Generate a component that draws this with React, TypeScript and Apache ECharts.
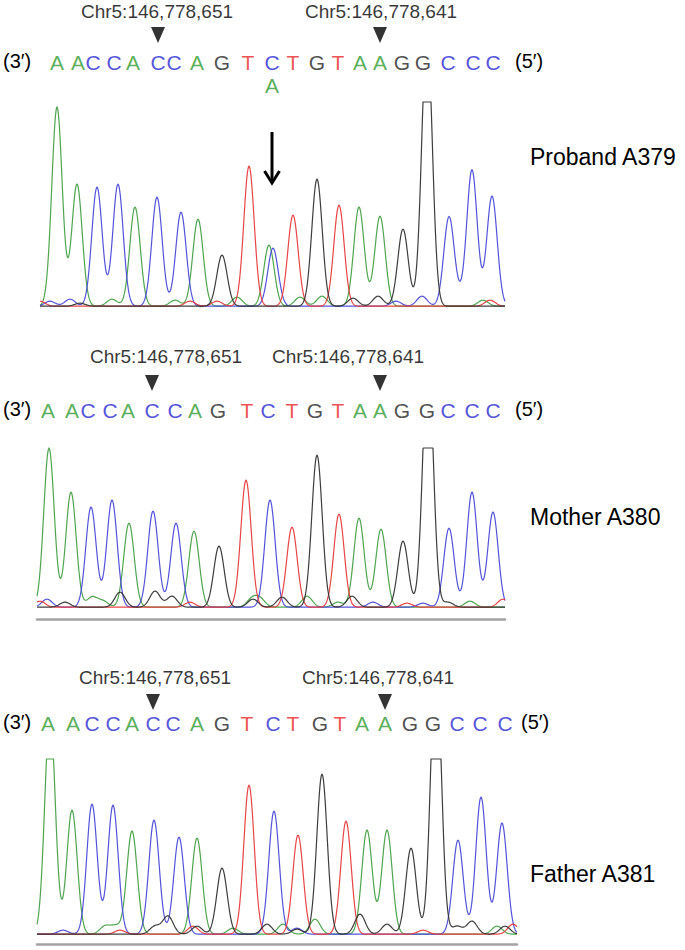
import React, { useEffect, useRef } from "react";
import * as echarts from "echarts";

// ---------------- data ----------------
const BASES = "AACCACCAGTCTGTAAGGCCC".split("");
const MARK_INDEX = [5, 15];
const POSITION_LABELS = ["Chr5:146,778,651", "Chr5:146,778,641"];
const SAMPLES = ["Proband A379", "Mother A380", "Father A381"];
const HET_INDEX = 10;
const HET_BASE = "A";

// Proband A379
const p1PeakPos = [57, 77, 97, 118, 135, 157, 181, 198, 222, 249, 273, 293, 317, 339, 359, 380, 403, 427, 449, 472, 492];
const p1PeakHeight = [199, 122, 119, 122, 99, 109, 94, 87, 51, 140, 58, 91, 127, 101, 99, 90, 77, 276, 89, 136, 110];
const p1CallPos = [57, 78, 93, 114, 133, 158, 174, 197, 222, 248, 272, 293, 317, 338, 360, 380, 402, 423, 448, 473, 493];
const p1HetPeak = [269, 61];
const p1LabelPos = [157, 381];
const p1NoiseA = [[112, 7], [175, 6], [237, 9], [300, 9], [322, 10], [483, 6]];
const p1NoiseC = [[50, 5], [70, 7], [396, 5], [422, 10], [460, 6]];
const p1NoiseG = [[80, 3], [353, 8], [378, 10]];
const p1NoiseT = [[40, 5], [190, 5], [217, 5], [490, 6]];

// Mother A380
const p2PeakPos = [49, 71, 91, 112, 129, 153, 176, 194, 219, 246, 270, 292, 317, 339, 359, 381, 403, 428, 449, 472, 493];
const p2PeakHeight = [159, 115, 100, 107, 84, 96, 84, 76, 61, 127, 107, 80, 152, 93, 89, 78, 66, 252, 79, 115, 95];
const p2CallPos = [48, 72, 88, 110, 128, 152, 175, 195, 218, 247, 268, 292, 315, 338, 360, 380, 402, 427, 448, 472, 493];
const p2LabelPos = [166, 348];
const p2NoiseA = [[92, 10], [103, 6], [252, 8], [260, 8], [307, 11], [338, 5], [470, 6]];
const p2NoiseC = [[47, 8], [373, 5], [423, 4]];
const p2NoiseG = [[65, 5], [120, 15], [155, 16], [172, 11], [253, 8], [282, 10], [352, 11], [448, 5]];
const p2NoiseT = [[40, 6], [190, 5], [407, 4], [503, 8]];

// Father A381
const p3PeakPos = [50, 72, 92, 113, 132, 154, 179, 197, 222, 249, 274, 298, 322, 346, 367, 387, 411, 436, 458, 481, 502];
const p3PeakHeight = [221, 124, 130, 129, 103, 114, 97, 96, 66, 149, 123, 99, 160, 113, 104, 104, 86, 280, 94, 137, 111];
const p3CallPos = [48, 73, 92, 113, 132, 153, 173, 197, 222, 247, 273, 293, 320, 340, 362, 385, 410, 433, 457, 480, 505];
const p3LabelPos = [155, 378];
const p3NoiseA = [[105, 8], [116, 8], [233, 6], [283, 10], [315, 15], [497, 8]];
const p3NoiseC = [[63, 4], [297, 6]];
const p3NoiseG = [[155, 8], [168, 18], [197, 8], [267, 10], [297, 5], [360, 20], [387, 10], [457, 8], [472, 13], [505, 8]];
const p3NoiseT = [[120, 4], [193, 8], [423, 4], [513, 10]];

// ---------------- styling ----------------
const TRACE_COLOR: Record<string, string> = { A: "#46a046", C: "#4a4ad8", G: "#333333", T: "#e63c3c" };
const LETTER_COLOR: Record<string, string> = { A: "#2f9a2f", C: "#2626d0", G: "#222222", T: "#e82525" };
const FONT = "'Liberation Sans', Arial, Helvetica, sans-serif";

type Panel = {
  peakPos: number[];
  peakHeight: number[];
  callPos: number[];
  labelPos: number[];
  noise: Record<string, number[][]>;
  het?: number[];
  left: number;
  top: number;
  height: number;
  xMin: number;
  xMax: number;
  seqY: number;
  triY: number;
  labY: number;
  hetY?: number;
  gray: boolean;
  grayOffset: number;
  rowPixelY: number;
  fiveX: number;
  nameY: number;
};

const panels: Panel[] = [
  {
    peakPos: p1PeakPos, peakHeight: p1PeakHeight, callPos: p1CallPos, labelPos: p1LabelPos,
    noise: { A: p1NoiseA, C: p1NoiseC, G: p1NoiseG, T: p1NoiseT }, het: p1HetPeak,
    left: 40, top: 102, height: 205, xMin: 40, xMax: 505,
    seqY: 245, triY: 272, labY: 296, hetY: 222, gray: false, grayOffset: 0,
    rowPixelY: 62, fiveX: 515, nameY: 157,
  },
  {
    peakPos: p2PeakPos, peakHeight: p2PeakHeight, callPos: p2CallPos, labelPos: p2LabelPos,
    noise: { A: p2NoiseA, C: p2NoiseC, G: p2NoiseG, T: p2NoiseT },
    left: 37, top: 448, height: 160, xMin: 37, xMax: 505,
    seqY: 198, triY: 225, labY: 252, gray: true, grayOffset: 11,
    rowPixelY: 410, fiveX: 515, nameY: 517,
  },
  {
    peakPos: p3PeakPos, peakHeight: p3PeakHeight, callPos: p3CallPos, labelPos: p3LabelPos,
    noise: { A: p3NoiseA, C: p3NoiseC, G: p3NoiseG, T: p3NoiseT },
    left: 37, top: 759, height: 176, xMin: 37, xMax: 517,
    seqY: 212, triY: 233, labY: 258, gray: true, grayOffset: 9,
    rowPixelY: 723, fiveX: 521, nameY: 874,
  },
];

const SIGMA = 5.2;

function makeTraceRenderer(peaks: number[][], color: string, xMin: number, xMax: number, yMax: number) {
  return (params: any, api: any) => {
    if (params.dataIndex !== 0) return { type: "group", children: [] };
    const pts: number[][] = [];
    const s2 = 2 * SIGMA * SIGMA;
    for (let x = xMin; x <= xMax; x += 0.5) {
      let y = 0.8;
      for (const [p, h] of peaks) {
        const d = x - p;
        if (Math.abs(d) < 40) y += h * Math.exp((-d * d) / s2);
      }
      if (y > yMax) y = yMax;
      pts.push(api.coord([x, y]));
    }
    return {
      type: "polyline",
      silent: true,
      shape: { points: pts },
      style: { stroke: color, fill: null, lineWidth: 1.2, opacity: 0.95 },
    };
  };
}

function buildOption() {
  const grid: any[] = [];
  const xAxis: any[] = [];
  const yAxis: any[] = [];
  const series: any[] = [];
  const graphic: any[] = [];

  panels.forEach((pn, pi) => {
    grid.push({ left: pn.left, top: pn.top, width: pn.xMax - pn.xMin, height: pn.height, containLabel: false });
    xAxis.push({
      type: "value", gridIndex: pi, min: pn.xMin, max: pn.xMax,
      axisLine: { show: pn.gray, onZero: false, lineStyle: { color: "#a3a3a3", width: 2.5 } },
      offset: pn.grayOffset,
      axisTick: { show: false }, axisLabel: { show: false }, splitLine: { show: false },
    });
    yAxis.push({
      type: "value", gridIndex: pi, min: 0, max: pn.height,
      show: false, splitLine: { show: false },
    });

    // traces per channel
    ["A", "C", "G", "T"].forEach((ch) => {
      const peaks: number[][] = [];
      BASES.forEach((b, i) => { if (b === ch) peaks.push([pn.peakPos[i], pn.peakHeight[i]]); });
      if (pn.het && ch === HET_BASE) peaks.push(pn.het);
      pn.noise[ch].forEach((n) => peaks.push(n));
      series.push({
        type: "custom", name: ch + pi, xAxisIndex: pi, yAxisIndex: pi, silent: true,
        renderItem: makeTraceRenderer(peaks, TRACE_COLOR[ch], pn.xMin, pn.xMax, pn.height),
        data: peaks,
        z: ch === "G" ? 3 : 2,
      });
    });

    // base letters
    const letters: any[] = BASES.map((b, i) => ({
      name: b, value: [pn.callPos[i], pn.seqY],
      label: { color: LETTER_COLOR[b] },
    }));
    if (pn.het && pn.hetY !== undefined) {
      letters.push({ name: HET_BASE, value: [pn.callPos[HET_INDEX], pn.hetY], label: { color: LETTER_COLOR[HET_BASE] } });
    }
    series.push({
      type: "scatter", xAxisIndex: pi, yAxisIndex: pi, clip: false, silent: true,
      symbolSize: 1, itemStyle: { color: "transparent" },
      label: {
        show: true, position: "inside", formatter: (p: any) => p.name,
        fontSize: 21, fontFamily: FONT,
      },
      data: letters,
    });

    // triangles
    series.push({
      type: "scatter", xAxisIndex: pi, yAxisIndex: pi, clip: false, silent: true,
      symbol: "triangle", symbolRotate: 180, symbolSize: [14, 16],
      itemStyle: { color: "#000" },
      data: MARK_INDEX.map((i) => [pn.callPos[i], pn.triY]),
    });

    // genomic position labels
    series.push({
      type: "scatter", xAxisIndex: pi, yAxisIndex: pi, clip: false, silent: true,
      symbolSize: 1, itemStyle: { color: "transparent" },
      label: {
        show: true, position: "inside", formatter: (p: any) => p.name,
        fontSize: 19, fontFamily: FONT, color: "#000",
      },
      data: pn.labelPos.map((x, k) => ({ name: POSITION_LABELS[k], value: [x, pn.labY] })),
    });

    // arrow over heterozygous position
    if (pn.het) {
      series.push({
        type: "custom", xAxisIndex: pi, yAxisIndex: pi, silent: true, clip: false, z: 5,
        data: [[pn.callPos[HET_INDEX], 175, 124]],
        renderItem: (params: any, api: any) => {
          const top = api.coord([api.value(0), api.value(1)]);
          const tip = api.coord([api.value(0), api.value(2)]);
          return {
            type: "group",
            children: [
              { type: "line", shape: { x1: top[0], y1: top[1], x2: tip[0], y2: tip[1] - 1 }, style: { stroke: "#000", lineWidth: 3 } },
              {
                type: "polyline",
                shape: { points: [[tip[0] - 7.5, tip[1] - 12], [tip[0], tip[1]], [tip[0] + 7.5, tip[1] - 12]] },
                style: { stroke: "#000", lineWidth: 3, fill: null, lineJoin: "miter" },
              },
            ],
          };
        },
      });
    }

    // (3') and (5') end labels, sample names
    graphic.push({
      type: "text", left: 3, top: pn.rowPixelY - 11,
      style: { text: "(3\u2032)", fontSize: 20, fontFamily: FONT, fill: "#000" },
    });
    graphic.push({
      type: "text", left: pn.fiveX, top: pn.rowPixelY - 11,
      style: { text: "(5\u2032)", fontSize: 20, fontFamily: FONT, fill: "#000" },
    });
    graphic.push({
      type: "text", left: 530, top: pn.nameY - 12,
      style: { text: SAMPLES[pi], fontSize: 23, fontFamily: FONT, fill: "#000" },
    });
  });

  return { animation: false, backgroundColor: "#ffffff", grid, xAxis, yAxis, series, graphic };
}

export default function App() {
  const ref = useRef<HTMLDivElement>(null);
  useEffect(() => {
    if (!ref.current) return;
    const chart = echarts.init(ref.current, undefined, { renderer: "svg" });
    chart.setOption(buildOption() as any);
    return () => chart.dispose();
  }, []);
  return (
    <div
      ref={ref}
      style={{ position: "absolute", left: 0, top: 0, width: 685, height: 950, background: "#fff" }}
    />
  );
}
